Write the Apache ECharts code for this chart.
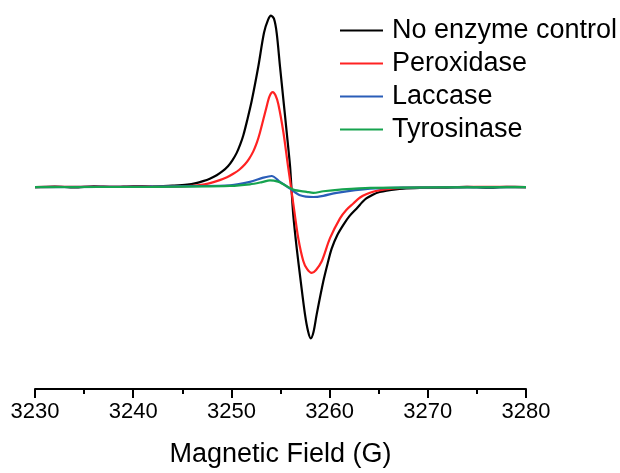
<!DOCTYPE html>
<html>
<head>
<meta charset="utf-8">
<script src="https://cdn.jsdelivr.net/npm/echarts@6/dist/echarts.min.js"></script>
<style>
  html, body { margin: 0; padding: 0; background: #fff; }
  #chart { width: 620px; height: 473px; }
</style>
</head>
<body>
<div id="chart"></div>
<script>
// field (G) / intensity (a.u.)
const names = ["No enzyme control", "Peroxidase", "Laccase", "Tyrosinase"]
const colors = ["#000000", "#ff2222", "#2a5db8", "#16a34f"]
const xTicks = [3230, 3280, 10]

const noEnzyme = [
  [3230, 0], [3232, 0.6], [3234, -0.4], [3236, 0.7], [3238, 0.2], [3240, 0.8],
  [3242, 0.6], [3244, 1.5], [3245.5, 2.5], [3246.4, 4], [3247.11, 6],
  [3247.8, 8.5], [3248.5, 12], [3249.1, 16], [3249.65, 21], [3250.1, 27],
  [3250.54, 34.5], [3250.9, 43], [3251.21, 52], [3251.6, 67], [3252.07, 87],
  [3252.74, 121.5], [3253.32, 155.5], [3253.73, 168.5], [3254.03, 172.8],
  [3254.34, 169.5], [3254.61, 155.5], [3254.95, 121.5], [3255.29, 88.5],
  [3255.63, 55.5], [3255.97, 21.5], [3256.11, 0], [3256.3, -28],
  [3256.65, -61.5], [3257.06, -95], [3257.49, -128], [3257.8, -145],
  [3258.08, -152.5], [3258.36, -146], [3258.69, -128], [3259.36, -95],
  [3259.8, -77], [3260.21, -62], [3260.8, -48], [3261.4, -38], [3262, -29.5],
  [3262.76, -21.5], [3263.6, -12.5], [3264.45, -7.5], [3265.1, -5],
  [3265.81, -3.5], [3267.47, -1.5], [3269.21, -0.8], [3271.92, -0.5],
  [3274, 0.3], [3276, -0.6], [3278, 0.2], [3280, 0],
]
const peroxidase = [
  [3230, 0], [3234, 0.3], [3238, 0.3], [3242, 0.5], [3245.45, 1],
  [3247.11, 2.5], [3248.5, 6], [3249.55, 10], [3250.19, 13.5], [3250.8, 17.5],
  [3251.38, 23], [3251.8, 28.5], [3252.23, 36], [3252.6, 45], [3252.91, 55],
  [3253.52, 78.5], [3253.88, 91.5], [3254.21, 95.8], [3254.49, 92.5],
  [3254.78, 83.5], [3255.29, 55.5], [3255.76, 21.5], [3256.07, 0],
  [3256.17, -7.5], [3256.37, -21.5], [3256.81, -51.5], [3257.32, -74.5],
  [3257.7, -82.5], [3258.18, -86.5], [3258.62, -83.5], [3259.2, -74.8],
  [3260.04, -51.5], [3261.06, -31.5], [3261.7, -23], [3262.41, -16.5],
  [3263.1, -10.5], [3263.78, -7], [3264.6, -4.2], [3265.47, -2.5],
  [3267.47, -0.8], [3270.22, -0.5], [3275, 0.2], [3280, 0],
]
const laccase = [
  [3230, 0], [3241.71, 0.5], [3246, 1], [3249.86, 1.8], [3251.89, 5.2],
  [3253.25, 9.5], [3254.1, 11.2], [3254.95, 5.2], [3255.97, -1.5],
  [3256.99, -8.2], [3258.34, -10], [3259.36, -8.8], [3260.72, -5.8],
  [3264.11, -1.5], [3267.17, -0.5], [3280, 0],
]
const tyrosinase = [
  [3230, 0], [3242, 0.3], [3249.86, 1.2], [3251.89, 2.8], [3253.12, 5],
  [3253.93, 6.8], [3254.75, 5.5], [3255.29, 2.8], [3256.3, -2.5],
  [3257.67, -4.8], [3258.34, -5.8], [3259.36, -4.2], [3261.06, -2.5],
  [3264.11, -0.8], [3280, 0],
]
const spectra = [noEnzyme, peroxidase, laccase, tyrosinase]

let myChart = echarts.init(document.getElementById("chart"))
myChart.setOption({
  animation: false,
  textStyle: { fontFamily: "Liberation Sans, Arial, sans-serif" },
  grid: { left: 35, right: 94, top: 10, bottom: 81 },
  legend: {
    orient: "vertical",
    left: 335,
    top: 12,
    icon: "rect",
    itemWidth: 43,
    itemHeight: 2,
    itemGap: 6,
    textStyle: { fontSize: 27, color: "#000", lineHeight: 27, padding: [0, 0, 0, 4] },
    data: names,
  },
  xAxis: {
    type: "value",
    min: xTicks[0],
    max: xTicks[1],
    interval: xTicks[2],
    name: "Magnetic Field (G)",
    nameLocation: "middle",
    nameGap: 52,
    nameTextStyle: { fontSize: 27, color: "#000" },
    axisLine: { onZero: false, lineStyle: { color: "#000", width: 2 } },
    axisTick: { inside: false, length: 9, lineStyle: { color: "#000", width: 2 } },
    minorTick: { show: true, splitNumber: 2, length: 5, lineStyle: { color: "#000", width: 2 } },
    splitLine: { show: false },
    axisLabel: { fontSize: 22, color: "#000", margin: 12, formatter: (v) => String(v) },
  },
  yAxis: {
    type: "value",
    show: false,
    min: -203.5,
    max: 178.5,
  },
  series: spectra.map((d, i) => ({
    name: names[i],
    type: "line",
    data: d,
    showSymbol: false,
    smooth: 0.3,
    lineStyle: { color: colors[i], width: 2.2 },
    itemStyle: { color: colors[i] },
  })),
})
</script>
</body>
</html>
